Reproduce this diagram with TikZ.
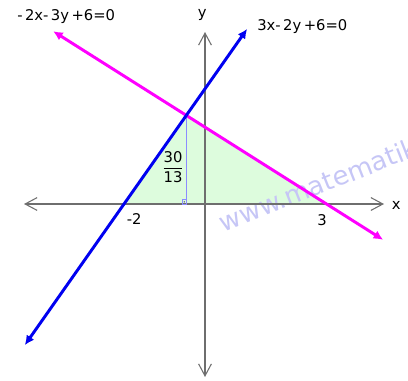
\documentclass[tikz,border=0pt]{standalone}
\usepackage{fontspec}
\setmainfont{DejaVu Sans}
\usetikzlibrary{arrows.meta}

\definecolor{regiongreen}{HTML}{DDFCDD}
\definecolor{axisgray}{HTML}{6E6E6E}
\definecolor{lineblue}{HTML}{0000F0}
\definecolor{linemagenta}{HTML}{FF00FF}
\definecolor{heightblue}{HTML}{8C8CFF}
\definecolor{markblue}{HTML}{C6C6F6}

\begin{document}
\begin{tikzpicture}[
  x=1.0125cm, y=0.96cm,
  axis/.style={draw=axisgray, line width=0.75pt,
               {Straight Barb[length=3mm,width=3.2mm]}-{Straight Barb[length=3mm,width=3.2mm]}},
  graph/.style={line width=2.1pt, -{Latex[length=2.4mm,width=2.3mm]}},
  lbl/.style={font=\fontsize{10.5}{12}\selectfont, inner sep=0pt},
  eqn/.style={lbl, anchor=base west}
]
\useasboundingbox (-5.062,-4.609) rectangle (5.012,5.3125);

% points of the region
\coordinate (O) at (0,0);
\coordinate (A) at (-2,0);
\coordinate (B) at (3,0);
\coordinate (P) at (-6/13,30/13);
\coordinate (F) at (-6/13,0);

% shaded region
\fill[regiongreen] (A) -- (P) -- (B) -- cycle;

% watermark
\node[font=\fontsize{18.5}{20}\selectfont, text=markblue, rotate=21.5,
      anchor=base west, inner sep=0pt] (mark) at (0.45,-0.74) {www.matematik};

% axes
\coordinate (xl) at (-4.469,0);
\coordinate (xr) at (4.42,0);
\coordinate (yt) at (0,4.479);
\coordinate (yb) at (0,-4.505);
\draw[axis] (xl) -- (xr);
\draw[axis] (yb) -- (yt);
\node[lbl] (xlab) at (4.72,-0.03) {x};
\node[lbl] (ylab) at (-0.07,4.92) {y};
\node[lbl] (mtwo) at (-1.75,-0.40) {-2};
\node[lbl] (three) at (2.89,-0.42) {3};

% height of the triangle
\draw[heightblue, line width=0.7pt] (P) -- (F);
\draw[heightblue, line width=0.6pt] ([xshift=-3pt]F) rectangle ([yshift=3pt]F);
\fill[heightblue!50!black] ([xshift=-1.5pt,yshift=1.5pt]F) circle (0.5pt);
\node[lbl] (frac) at (-0.79,0.96) {$\displaystyle\frac{\mbox{30}}{\mbox{13}}$};

% the two lines
\coordinate (b1) at (-4.45,-3.675);
\coordinate (b2) at (1.04,4.56);
\coordinate (m1) at (-3.75,4.5);
\coordinate (m2) at (4.4,-0.933);
\draw[graph, linemagenta] (P) -- (m1);
\draw[graph, linemagenta] (P) -- (m2);
\draw[graph, lineblue] (P) -- (b1);
\draw[graph, lineblue] (P) -- (b2);

\node[eqn] (eqm) at (-4.642,4.79) {-\,2x-\,3y\,+6=0};
\node[eqn] (eqb) at (1.284,4.53) {3x-\,2y\,+6=0};
\end{tikzpicture}
\end{document}
